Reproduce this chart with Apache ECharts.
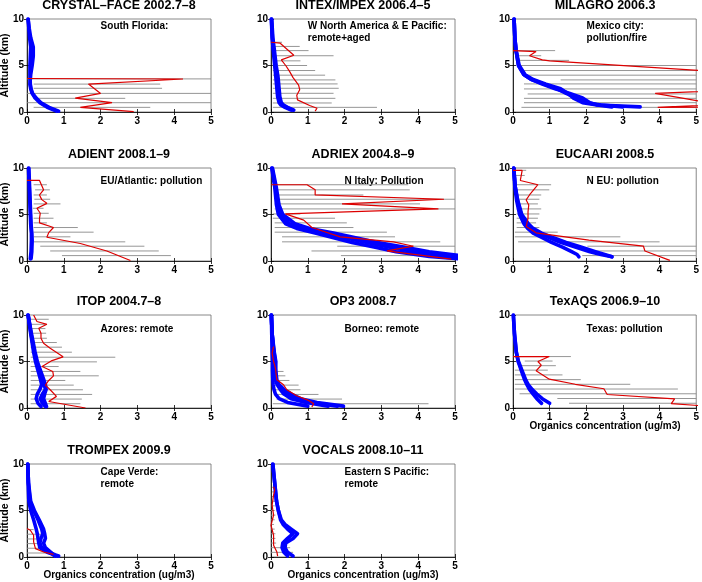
<!DOCTYPE html>
<html><head><meta charset="utf-8">
<script src="https://cdn.jsdelivr.net/npm/echarts@6/dist/echarts.min.js"></script>
<style>html,body{margin:0;padding:0;background:#fff}#c{width:702px;height:582px}</style>
</head><body><div id="c"></div>
<script>
// ---------- data ----------
const titles = ['CRYSTAL–FACE 2002.7–8','INTEX/IMPEX 2006.4–5','MILAGRO 2006.3','ADIENT 2008.1–9','ADRIEX 2004.8–9','EUCAARI 2008.5','ITOP 2004.7–8','OP3 2008.7','TexAQS 2006.9–10','TROMPEX 2009.9','VOCALS 2008.10–11'];
const notes = [['South Florida:'],['W North America & E Pacific:','remote+aged'],['Mexico city:','pollution/fire'],['EU/Atlantic: pollution'],['N Italy: Pollution'],['N EU: pollution'],['Azores: remote'],['Borneo: remote'],['Texas: pollution'],['Cape Verde:','remote'],['Eastern S Pacific:','remote']];
const noteX = [2,1,2,2,2,2,2,2,2,2,2];
const xTicks = [0,1,2,3,4,5];
const yTicks = [0,5,10];

// Panel 1 CRYSTAL-FACE
const p1ObsX = [0,4.24,1.67,2.0,1.31,2.31,1.45,2.9];
const p1ObsY = [3.6,3.55,3.0,2.0,1.5,1.0,0.5,0.05];
const p1ErrY = [3.56,3.0,2.55,2.0,1.47,1.0,0.5];
const p1ErrLo = [0,0.18,0.18,0,0.18,0,0.18];
const p1ErrHi = [6,3.62,3.67,6,2.67,6,3.35];
const p1Alt = [0.1,0.5,1,1.5,2,2.5,3,4,5,6,7,8,9,10];
const p1M1 = [0.86,0.6,0.38,0.25,0.15,0.11,0.09,0.08,0.08,0.09,0.1,0.07,0.05,0.03];
const p1M2 = [0.8,0.55,0.35,0.22,0.14,0.1,0.08,0.1,0.14,0.17,0.17,0.1,0.06,0.03];

// Panel 2 INTEX/IMPEX
const p2ObsX = [0,0.25,0.62,0.28,0.4,0.5,0.6,0.75,0.78,0.7,0.72,1.05,1.25,1.2];
const p2ObsY = [7.5,7.4,6.1,5.6,5.0,4.4,3.7,2.9,2.4,1.8,1.3,0.7,0.4,0.1];
const p2ErrY = [7.5,7.05,6.6,6.05,5.5,5.0,4.46,3.96,3.45,3.02,2.55,2.01,1.47,0.97,0.5];
const p2ErrLo = [0.05,0.05,0.1,0.05,0.05,0.05,0.05,0.05,0.05,0.05,0.05,0.05,0.05,0.05,0.05];
const p2ErrHi = [0.3,0.78,1.02,1.7,0.8,0.98,1.2,1.47,1.75,1.81,1.84,1.7,1.75,1.65,2.88];
const p2Alt = [0.2,0.5,0.75,1,1.65,2.5,3.8,5,6.7,8,10];
const p2M1 = [0.6,0.42,0.3,0.25,0.21,0.19,0.16,0.12,0.07,0.04,0.01];
const p2M2 = [0.55,0.38,0.27,0.22,0.18,0.16,0.13,0.1,0.06,0.03,0.01];
const p2M3 = [0.62,0.45,0.34,0.28,0.24,0.22,0.19,0.14,0.09,0.05,0.02];

// Panel 3 MILAGRO
const p3ObsX = [0,0.63,0.45,0.8,1.0,6.5,7,7,6.5,6,3.88,5.6,3.95,6];
const p3ObsY = [6.6,6.5,6.05,5.6,5.5,4.1,3.5,3.0,2.5,2.35,2.0,0.8,0.5,0.55];
const p3ErrY = [6.6,6.05,5.55,5.0,4.46,3.96,3.45,3.02,2.48,1.94,1.47,1.0,0.5];
const p3ErrLo = [0,0.1,0.1,0.2,0.2,0.3,1.3,0.3,0.3,0.4,0.3,0.3,0.23];
const p3ErrHi = [1.15,0.77,1.53,9,9,9,9,9,9,9,9,9,9];
const p3Alt = [10,8,6.7,5,4,3.5,3,2.5,2,1.5,1,0.75,0.55];
const p3M1 = [0.03,0.05,0.08,0.17,0.33,0.55,0.9,1.3,1.5,1.65,1.9,2.3,3.47];
const p3M2 = [0.03,0.05,0.08,0.15,0.3,0.5,0.85,1.2,1.45,1.75,2.0,2.4,3.0];
const p3M3 = [0.03,0.05,0.08,0.15,0.3,0.5,0.8,1.15,1.55,1.9,2.1,2.3,2.7];

// Panel 4 ADIENT
const p4ObsX = [0,0.34,0.45,0.34,0.4,0.54,0.27,0.36,0.34,0.34,0.72,0.59,0.54,1.45,2.17,2.81];
const p4ObsY = [8.66,8.66,7.65,7.1,6.6,6.2,5.67,5.13,4.6,4.1,3.6,3.05,2.55,1.88,1.08,0.05];
const p4ErrY = [8.2,7.65,7.1,6.64,6.14,5.67,5.13,4.6,4.1,3.6,3.1,2.6,2.06,1.59,1.08,0.58];
const p4ErrLo = [0.18,0.22,0.18,0.2,0.18,0.16,0.18,0.18,0.18,0.18,0.18,0.18,0.18,0.36,0.63,0.95];
const p4ErrHi = [0.54,0.62,0.54,0.63,0.91,0.45,0.59,0.72,0.54,1.38,1.81,1.18,2.67,3.19,3.58,3.91];
const p4Alt = [10,8,6,4,3,2.2,1,0.25];
const p4M1 = [0.05,0.07,0.09,0.11,0.13,0.14,0.13,0.11];
const p4M2 = [0.04,0.06,0.08,0.1,0.12,0.12,0.11,0.09];

// Panel 5 ADRIEX
const p5ObsX = [0,0.98,1.2,1.2,4.7,1.93,4.55,0.39,0.89,1.11,1.88,3.33,3.87,3.15,4.1,4.9];
const p5ObsY = [8.2,8.2,7.65,7.1,6.64,6.14,5.6,5.06,4.4,3.6,2.6,2.06,1.59,1.08,0.6,0.2];
const p5ErrY = [8.2,7.65,7.1,6.64,6.14,5.6,5.06,4.6,4.1,3.6,3.1,2.6,2.06,1.59,1.08,0.58];
const p5ErrLo = [0.05,0.1,0.1,0.1,0.1,0.1,0.05,0.05,0.1,0.1,0.1,0.3,0.3,1.8,1.1,1.9];
const p5ErrHi = [3.73,3.77,2.51,9,4.05,9,0.8,1.74,2.06,2.24,3.15,3.37,4.6,9,4.05,9];
const p5Alt = [10,8,6,5,4,3.5,3,2.5,2,1.5,1,0.5,0.2];
const p5M1 = [0.02,0.1,0.15,0.2,0.4,0.7,1.2,1.7,2.2,2.8,3.4,4.3,5.2];
const p5M2 = [0.03,0.12,0.18,0.25,0.5,0.85,1.45,2.0,2.6,3.2,3.9,4.8,5.6];
const p5M3 = [0.04,0.14,0.22,0.32,0.65,1.05,1.7,2.3,2.9,3.6,4.3,5.3,6];

// Panel 6 EUCAARI
const p6ObsX = [0,0.25,0.2,0.68,0.45,0.36,0.43,0.41,0.41,0.36,0.63,2.07,3.56,3.6,4.28];
const p6ObsY = [9.75,9.75,8.66,8.2,7.1,6.57,6.03,5.3,4.6,3.7,3.03,2.24,1.59,1.08,0.07];
const p6ErrY = [9.75,9.2,8.2,7.65,7.1,6.64,6.14,5.6,5.06,4.6,4.1,3.6,3.1,2.6,2.06,1.59,1.08,0.58];
const p6ErrLo = [0.05,0.05,0.1,0.1,0.1,0.1,0.1,0.1,0.1,0.1,0.1,0.1,0.05,0.05,0.14,2.03,2.03,1.89];
const p6ErrHi = [0.36,0.32,1.04,0.99,0.77,0.72,0.68,0.77,0.72,0.68,0.63,0.72,1.22,2.93,4.0,9,9,9];
const p6Alt = [10,8,6.5,5,4,3.5,3,2.5,2,1.5,1,0.7,0.45];
const p6M1 = [0.02,0.05,0.1,0.18,0.3,0.4,0.55,0.8,1.05,1.35,1.6,1.75,1.8];
const p6M2 = [0.02,0.06,0.12,0.22,0.38,0.5,0.7,1.0,1.3,1.7,2.1,2.4,2.7];
const p6M3 = [0.02,0.06,0.13,0.24,0.42,0.55,0.78,1.1,1.45,1.85,2.25,2.5,2.7];

// Panel 7 ITOP
const p7ObsX = [0.18,0.27,0.54,0.32,0.38,0.38,0.45,0.63,0.98,0.68,0.41,0.7,0.72,0.59,0.5,0.63,0.8,0.59,1.59];
const p7ObsY = [10,9.3,9.0,8.57,8.04,7.5,6.96,6.43,5.5,5.1,4.46,3.93,3.46,2.96,2.46,1.96,1.25,0.7,0.0];
const p7ErrY = [9.54,9.0,8.54,8.04,7.5,7.04,6.54,6.0,5.46,4.96,4.46,3.93,3.46,2.96,2.46,1.96,1.46,0.96,0.46];
const p7ErrLo = [0.1,0.1,0.1,0.1,0.1,0.1,0.1,0.1,0.1,0.1,0.1,0.1,0.1,0.1,0.1,0.1,0.1,0.1,0.1];
const p7ErrHi = [0.59,0.52,0.5,0.52,0.54,0.81,0.95,1.22,2.4,1.9,0.86,1.45,1.95,1.04,1.27,1.52,1.77,1.49,1.45];
const p7Alt = [10,8,6,5,4,3,2.5,2,1.5,1,0.5,0.15];
const p7M1 = [0.03,0.1,0.18,0.23,0.3,0.37,0.4,0.35,0.28,0.25,0.3,0.38];
const p7M2 = [0.03,0.11,0.2,0.26,0.34,0.42,0.47,0.5,0.42,0.36,0.42,0.5];
const p7M3 = [0.03,0.12,0.22,0.28,0.37,0.46,0.5,0.52,0.48,0.45,0.5,0.53];

// Panel 8 OP3
const p8ObsX = [0.07,0.03,0.07,0.12,0.14,0.16,0.34,0.43,0.7,1.02,1.16,1.11];
const p8ObsY = [6.6,5.9,5.0,4.3,3.6,3.04,2.5,1.96,1.32,0.82,0.46,0.1];
const p8ErrY = [3.93,3.46,2.96,2.46,1.96,1.46,0.96,0.46];
const p8ErrLo = [0.02,0.02,0.1,0.1,0.1,0.15,0.15,0.05];
const p8ErrHi = [0.34,0.39,0.5,0.75,0.8,1.29,1.93,4.28];
const p8Alt = [10,8,6,5,4,3,2.5,2,1.5,1,0.6,0.2];
const p8M1 = [0.01,0.02,0.03,0.04,0.04,0.05,0.06,0.08,0.12,0.22,0.45,1.0];
const p8M2 = [0.01,0.03,0.08,0.12,0.1,0.12,0.17,0.25,0.35,0.55,0.95,1.55];
const p8M3 = [0.01,0.03,0.09,0.13,0.13,0.16,0.22,0.35,0.55,0.8,1.25,1.97];
const p8M4 = [0.01,0.03,0.07,0.1,0.12,0.14,0.2,0.3,0.45,0.7,1.1,1.8];

// Panel 9 TexAQS
const p9ObsX = [0,0.99,0.68,0.77,0.63,0.99,1.7,2.48,2.57,4.41,4.32,5.3];
const p9ObsY = [5.53,5.53,5.0,4.6,4.0,3.1,2.55,2.07,1.45,0.98,0.47,0.2];
const p9ErrY = [5.53,5.05,4.55,4.07,3.56,3.05,2.55,2.04,1.53,1.02,0.51];
const p9ErrLo = [0.05,0.32,0.18,0.05,0.05,0.05,0.05,0.05,0.18,1.21,1.53];
const p9ErrHi = [1.58,1.08,1.17,0.95,1.35,1.85,3.2,4.5,9,9,9];
const p9Alt = [10,8,6,5,4,3,2.5,2,1.5,1,0.5];
const p9M1 = [0.01,0.04,0.09,0.15,0.25,0.35,0.42,0.52,0.65,0.8,1.0];
const p9M2 = [0.01,0.04,0.09,0.14,0.23,0.32,0.38,0.45,0.55,0.65,0.78];

// Panel 10 TROMPEX
const p10ObsX = [0,0.09,0.18,0.18,0.23,0.45,0.72];
const p10ObsY = [3.06,2.88,2.34,1.62,0.9,0.54,0.29];
const p10ErrY = [2.95,2.45,1.94,1.44,0.94,0.43];
const p10ErrLo = [0,0,0,0,0,0];
const p10ErrHi = [0.18,0.4,0.36,0.45,0.54,0.77];
const p10Alt = [10,8,6,5,4,3,2.5,2,1.5,1,0.5,0.1];
const p10M1 = [0.02,0.03,0.05,0.1,0.18,0.25,0.28,0.3,0.32,0.35,0.55,0.86];
const p10M2 = [0.02,0.04,0.08,0.18,0.3,0.4,0.43,0.38,0.35,0.4,0.6,0.8];
const p10M3 = [0.02,0.04,0.1,0.2,0.33,0.45,0.48,0.5,0.45,0.5,0.65,0.75];

// Panel 11 VOCALS
const p11ObsX = [0.07,0.1,0.07,0.03,0.07,0,0.07,0.07,0.16,0.18];
const p11ObsY = [7.55,7.2,6.65,5.57,4.5,3.4,2.34,1.26,0.54,0.1];
const p11ErrY = [7.5,7.0,6.5,6.0,5.5,5.0,4.5,4.0,3.5,3.0,2.5,2.0,1.5,1.0,0.5];
const p11ErrLo = [0.03,0.03,0.03,0.02,0.02,0,0,0,0,0,0,0,0,0,0];
const p11ErrHi = [0.13,0.14,0.14,0.12,0.1,0.1,0.12,0.1,0.08,0.1,0.12,0.12,0.14,0.52,0.6];
const p11Alt = [10,8,6,5,4,3.5,3,2.5,2,1.5,1,0.5,0.1];
const p11M1 = [0.05,0.1,0.15,0.2,0.28,0.38,0.55,0.72,0.6,0.4,0.38,0.45,0.6];
const p11M2 = [0.05,0.1,0.15,0.2,0.26,0.33,0.45,0.6,0.45,0.32,0.3,0.35,0.45];

// ---------- assemble ----------
const panels = [
 {ox:p1ObsX,oy:p1ObsY,ey:p1ErrY,el:p1ErrLo,eh:p1ErrHi,alt:p1Alt,ms:[p1M1,p1M2]},
 {ox:p2ObsX,oy:p2ObsY,ey:p2ErrY,el:p2ErrLo,eh:p2ErrHi,alt:p2Alt,ms:[p2M1,p2M2,p2M3]},
 {ox:p3ObsX,oy:p3ObsY,ey:p3ErrY,el:p3ErrLo,eh:p3ErrHi,alt:p3Alt,ms:[p3M1,p3M2,p3M3]},
 {ox:p4ObsX,oy:p4ObsY,ey:p4ErrY,el:p4ErrLo,eh:p4ErrHi,alt:p4Alt,ms:[p4M1,p4M2]},
 {ox:p5ObsX,oy:p5ObsY,ey:p5ErrY,el:p5ErrLo,eh:p5ErrHi,alt:p5Alt,ms:[p5M1,p5M2,p5M3]},
 {ox:p6ObsX,oy:p6ObsY,ey:p6ErrY,el:p6ErrLo,eh:p6ErrHi,alt:p6Alt,ms:[p6M1,p6M2,p6M3]},
 {ox:p7ObsX,oy:p7ObsY,ey:p7ErrY,el:p7ErrLo,eh:p7ErrHi,alt:p7Alt,ms:[p7M1,p7M2,p7M3]},
 {ox:p8ObsX,oy:p8ObsY,ey:p8ErrY,el:p8ErrLo,eh:p8ErrHi,alt:p8Alt,ms:[p8M1,p8M2,p8M3,p8M4]},
 {ox:p9ObsX,oy:p9ObsY,ey:p9ErrY,el:p9ErrLo,eh:p9ErrHi,alt:p9Alt,ms:[p9M1,p9M2]},
 {ox:p10ObsX,oy:p10ObsY,ey:p10ErrY,el:p10ErrLo,eh:p10ErrHi,alt:p10Alt,ms:[p10M1,p10M2,p10M3]},
 {ox:p11ObsX,oy:p11ObsY,ey:p11ErrY,el:p11ErrLo,eh:p11ErrHi,alt:p11Alt,ms:[p11M1,p11M2]}
];

const FONT = '"Liberation Sans", Arial, Helvetica, sans-serif';
const colLeft = [27, 271, 513], rowTop = [19, 168, 315, 464], W = 184, H = 93;
const noteOff = [[7.5],[7.5,19.5],[7.5,19.5],[13.5],[13.5],[13.5],[14.5],[14.5],[14.5],[8.3,20.3],[8.3,20.3]];
const xNamePanels = [8, 9, 10];
const yNamePanels = [0, 3, 6, 9];

const grids = [], xAxes = [], yAxes = [], series = [], graphics = [];
panels.forEach((p, i) => {
  const r = Math.floor(i / 3), c = i % 3;
  const L = colLeft[c], T = rowTop[r];
  grids.push({left: L, top: T, width: W, height: H, show: true, borderColor: '#6a6a6a', borderWidth: 0.8, containLabel: false});
  const lab = {show: true, fontFamily: FONT, fontWeight: 'bold', fontSize: 10, color: '#000', margin: 4};
  xAxes.push({type: 'value', gridIndex: i, min: xTicks[0], max: xTicks[xTicks.length-1], interval: 1, position: 'bottom',
    axisLine: {show: true, onZero: false, lineStyle: {color: '#000', width: 0.8}},
    axisTick: {show: true, inside: true, length: 3, lineStyle: {color: '#000', width: 0.8}},
    axisLabel: lab, splitLine: {show: false}});
  xAxes.push({type: 'value', gridIndex: i, min: 0, max: 5, interval: 1, position: 'top',
    axisLine: {show: false}, axisTick: {show: true, inside: true, length: 3, lineStyle: {color: '#000', width: 0.8}},
    axisLabel: {show: false}, splitLine: {show: false}});
  yAxes.push({type: 'value', gridIndex: i, min: yTicks[0], max: yTicks[yTicks.length-1], interval: 5, position: 'left',
    axisLine: {show: true, onZero: false, lineStyle: {color: '#000', width: 0.8}},
    axisTick: {show: true, inside: true, length: 3, lineStyle: {color: '#000', width: 0.8}},
    axisLabel: Object.assign({}, lab, {margin: 3}), splitLine: {show: false}});
  yAxes.push({type: 'value', gridIndex: i, min: 0, max: 10, interval: 5, position: 'right',
    axisLine: {show: false}, axisTick: {show: true, inside: true, length: 3, lineStyle: {color: '#000', width: 0.8}},
    axisLabel: {show: false}, splitLine: {show: false}});
  const xi = 2 * i, yi = 2 * i;
  // error bars
  series.push({type: 'custom', xAxisIndex: xi, yAxisIndex: yi, z: 1, silent: true,
    encode: {x: [0, 1], y: 2},
    data: p.ey.map((y, j) => [p.el[j], p.eh[j], y]),
    renderItem: function (params, api) {
      const cs = params.coordSys;
      const a = api.coord([api.value(0), api.value(2)]);
      const b = api.coord([api.value(1), api.value(2)]);
      const cl = v => Math.max(cs.x, Math.min(cs.x + cs.width, v));
      return {type: 'line', shape: {x1: cl(a[0]), y1: a[1], x2: cl(b[0]), y2: b[1]},
        style: {stroke: '#8a8a8a', lineWidth: 0.9}};
    }});
  // model lines
  p.ms.forEach(m => {
    series.push({type: 'line', xAxisIndex: xi, yAxisIndex: yi, z: 2, silent: true, showSymbol: false, symbol: 'none',
      clip: true, data: p.alt.map((a, j) => [m[j], a]),
      lineStyle: {color: '#0000ff', width: 3.6, join: 'round', cap: 'round'}});
  });
  // observation
  series.push({type: 'line', xAxisIndex: xi, yAxisIndex: yi, z: 3, silent: true, showSymbol: false, symbol: 'none',
    clip: true, data: p.ox.map((x, j) => [x, p.oy[j]]),
    lineStyle: {color: '#dd0000', width: 1.2}});
  // title
  graphics.push({type: 'text', x: L + W / 2, y: T - 13.5, silent: true,
    style: {text: titles[i], font: 'bold 12.5px ' + FONT, fill: '#000', textAlign: 'center', textVerticalAlign: 'middle'}});
  // note
  notes[i].forEach((t, k) => {
    graphics.push({type: 'text', x: L + noteX[i] / 5 * W, y: T + noteOff[i][k], silent: true,
      style: {text: t, font: 'bold 10px ' + FONT, fill: '#000', textAlign: 'left', textVerticalAlign: 'middle'}});
  });
  if (xNamePanels.includes(i)) {
    graphics.push({type: 'text', x: L + W / 2, y: T + H + 18.5, silent: true,
      style: {text: 'Organics concentration (ug/m3)', font: 'bold 10px ' + FONT, fill: '#000', textAlign: 'center', textVerticalAlign: 'middle'}});
  }
  if (yNamePanels.includes(i)) {
    graphics.push({type: 'text', x: 5.5, y: T + H / 2, rotation: Math.PI / 2, silent: true,
      style: {text: 'Altitude (km)', font: 'bold 10.5px ' + FONT, fill: '#000', textAlign: 'center', textVerticalAlign: 'middle'}});
  }
});

const chart = echarts.init(document.getElementById('c'), null, {renderer: 'canvas'});
chart.setOption({
  animation: false,
  backgroundColor: '#fff',
  grid: grids, xAxis: xAxes, yAxis: yAxes, series: series,
  graphic: {elements: graphics}
});
</script></body></html>
